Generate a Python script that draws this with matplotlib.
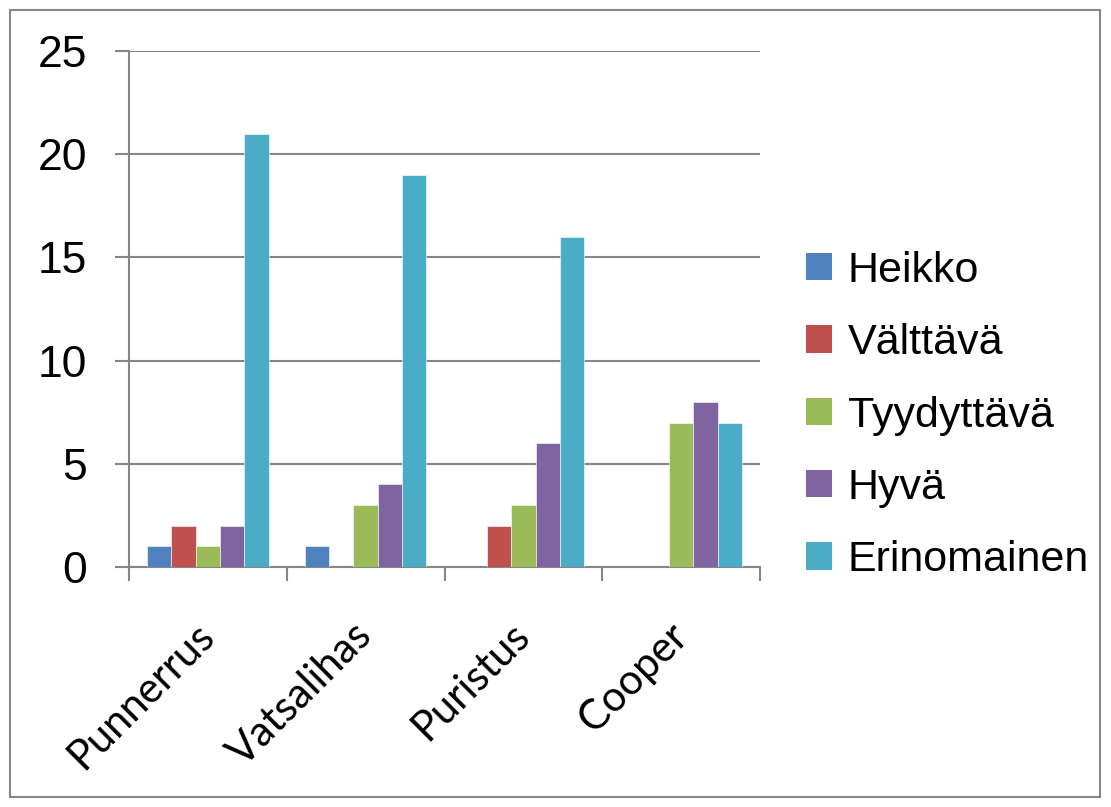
import matplotlib
matplotlib.use("Agg")
import matplotlib.pyplot as plt
from matplotlib.patches import Patch, Rectangle
import numpy as np

categories = ["Punnerrus", "Vatsalihas", "Puristus", "Cooper"]
series = ["Heikko", "Välttävä", "Tyydyttävä", "Hyvä", "Erinomainen"]
heikko = [1, 1, 0, 0]
valttava = [2, 0, 2, 0]
tyydyttava = [1, 3, 3, 7]
hyva = [2, 4, 6, 8]
erinomainen = [21, 19, 16, 7]
values = [heikko, valttava, tyydyttava, hyva, erinomainen]
colors = ["#4F81BD", "#C0504D", "#9BBB59", "#8064A2", "#4BACC6"]
yticks = [0, 5, 10, 15, 20, 25]

GRAY = "#868686"
plt.rcParams["font.family"] = ["Liberation Sans", "DejaVu Sans"]

fig = plt.figure(figsize=(11.11, 8.07), dpi=100)
ax = fig.add_axes([129 / 1111, 1 - 567 / 807, (760 - 129) / 1111, (567 - 51) / 807])

x = np.arange(len(categories))
w = 1 / 6.5
for i, (name, vals) in enumerate(zip(series, values)):
    ax.bar(x + (i - 2) * w, vals, width=w, color=colors[i], label=name,
           edgecolor="white", linewidth=0.4, zorder=3)

ax.set_xlim(-0.5, len(categories) - 0.5)
ax.set_ylim(0, 25)
ax.set_yticks(yticks)
ax.set_yticklabels([str(t) for t in yticks], fontsize=32)
ax.yaxis.grid(True, color=GRAY, linewidth=1.5, zorder=0)
ax.tick_params(axis="y", length=10, width=1.5, color=GRAY, pad=20)

# category boundaries carry the tick marks, labels sit at centres
ax.set_xticks(np.arange(len(categories) + 1) - 0.5)
ax.set_xticklabels([])
ax.tick_params(axis="x", length=10, width=1.5, color=GRAY)
ax.set_xticks(x, minor=True)
ax.set_xticklabels(categories, minor=True, rotation=45, ha="right", va="center",
                   rotation_mode="anchor", fontsize=30, family=["Lato", "DejaVu Sans"])
ax.tick_params(axis="x", which="minor", length=0, pad=45)

for s in ["top", "right"]:
    ax.spines[s].set_visible(False)
for s in ["left", "bottom"]:
    ax.spines[s].set_color(GRAY)
    ax.spines[s].set_linewidth(1.5)

handles = [Patch(facecolor=c, edgecolor="none", label=n) for c, n in zip(colors, series)]
fig.legend(handles=handles, loc="upper left", bbox_to_anchor=(806 / 1111, 1 - 251 / 807),
           frameon=False, fontsize=31, handlelength=0.6, handleheight=0.6,
           handletextpad=0.37, labelspacing=0.75, borderpad=0, borderaxespad=0)

fig.patches.append(Rectangle((10 / 1111, 1 - 797 / 807), 1090 / 1111, 787 / 807,
                             transform=fig.transFigure, fill=False,
                             edgecolor=GRAY, linewidth=1.5))

fig.savefig("out.png", dpi=100)
